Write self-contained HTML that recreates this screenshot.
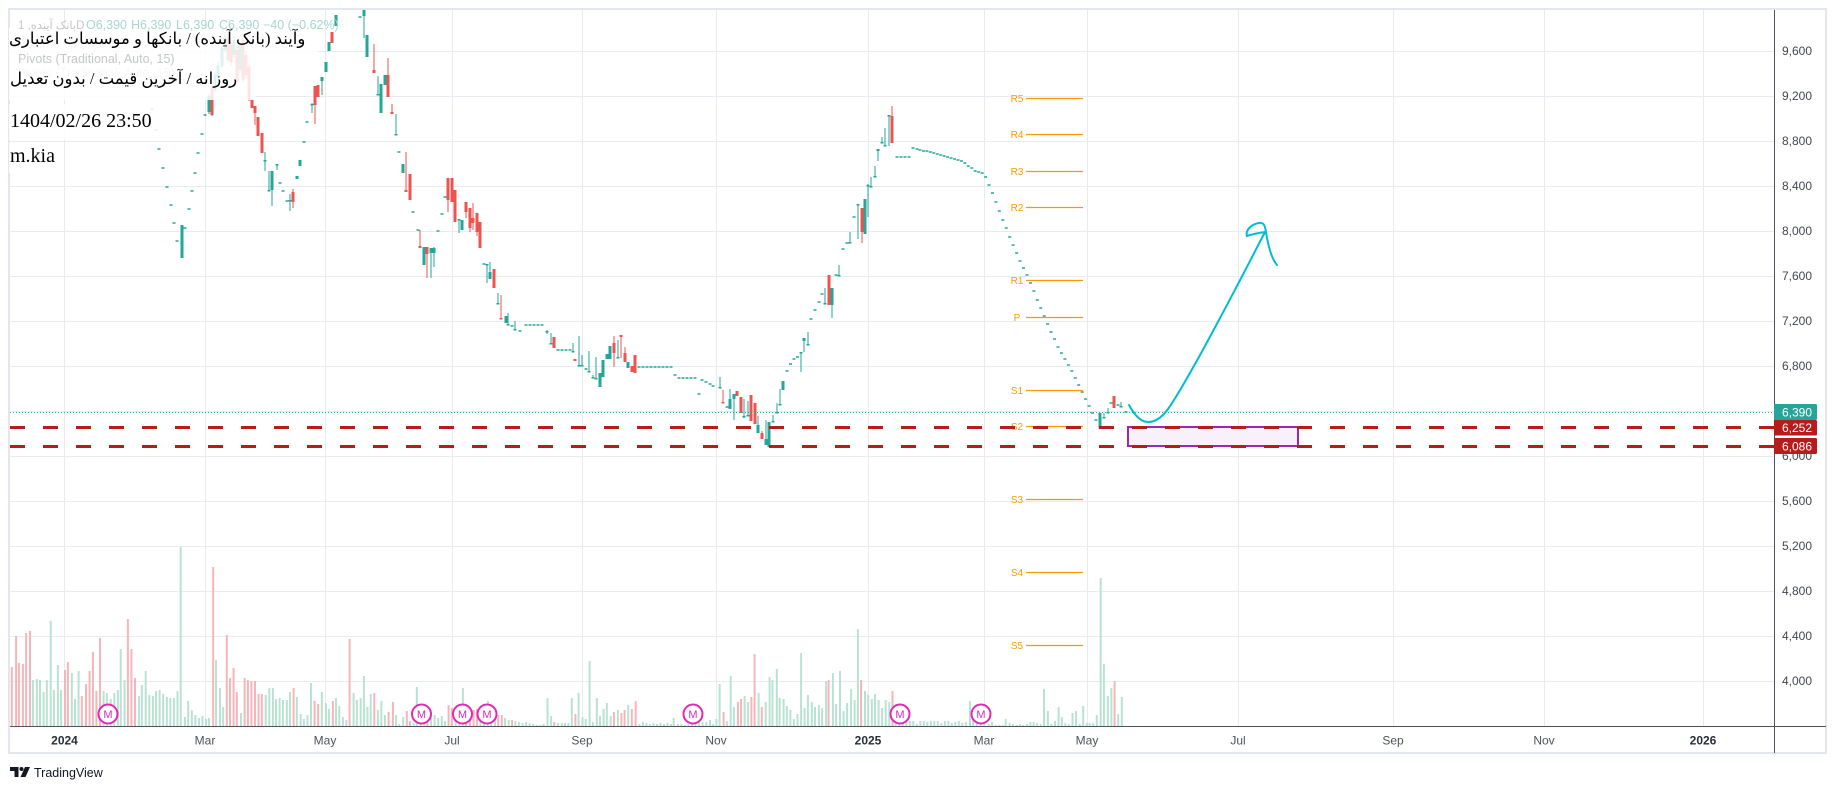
<!DOCTYPE html>
<html><head><meta charset="utf-8">
<style>
html,body{margin:0;padding:0;background:#fff;}
body{width:1836px;height:789px;overflow:hidden;position:relative;}
svg{position:absolute;left:0;top:0;}
.t{position:absolute;white-space:nowrap;color:#000;line-height:1;}
.fa{font-family:"Liberation Serif","DejaVu Sans",sans-serif;font-size:16.5px;}
.ser{font-family:"Liberation Serif",serif;font-size:20px;}
</style></head><body>
<svg width="1836" height="789" viewBox="0 0 1836 789" font-family="Liberation Sans, sans-serif">
<defs><clipPath id="pane"><rect x="10" y="10" width="1764" height="716"/></clipPath></defs>
<rect x="9" y="9" width="1817" height="744" fill="#fff" stroke="#e3e6ec" stroke-width="2"/>
<g stroke="#e8ecf1" stroke-width="1">
<line x1="10" x2="1774" y1="51.5" y2="51.5"/><line x1="10" x2="1774" y1="96.5" y2="96.5"/><line x1="10" x2="1774" y1="141.5" y2="141.5"/><line x1="10" x2="1774" y1="186.5" y2="186.5"/><line x1="10" x2="1774" y1="231.5" y2="231.5"/><line x1="10" x2="1774" y1="276.5" y2="276.5"/><line x1="10" x2="1774" y1="321.5" y2="321.5"/><line x1="10" x2="1774" y1="366.5" y2="366.5"/><line x1="10" x2="1774" y1="411.5" y2="411.5"/><line x1="10" x2="1774" y1="456.5" y2="456.5"/><line x1="10" x2="1774" y1="501.5" y2="501.5"/><line x1="10" x2="1774" y1="546.5" y2="546.5"/><line x1="10" x2="1774" y1="591.5" y2="591.5"/><line x1="10" x2="1774" y1="636.5" y2="636.5"/><line x1="10" x2="1774" y1="681.5" y2="681.5"/>
<line y1="10" y2="726" x1="64.5" x2="64.5"/><line y1="10" y2="726" x1="205.5" x2="205.5"/><line y1="10" y2="726" x1="325.5" x2="325.5"/><line y1="10" y2="726" x1="452.5" x2="452.5"/><line y1="10" y2="726" x1="582.5" x2="582.5"/><line y1="10" y2="726" x1="716.5" x2="716.5"/><line y1="10" y2="726" x1="868.5" x2="868.5"/><line y1="10" y2="726" x1="984.5" x2="984.5"/><line y1="10" y2="726" x1="1087.5" x2="1087.5"/><line y1="10" y2="726" x1="1238.5" x2="1238.5"/><line y1="10" y2="726" x1="1393.5" x2="1393.5"/><line y1="10" y2="726" x1="1544.5" x2="1544.5"/><line y1="10" y2="726" x1="1703.5" x2="1703.5"/>
</g>
<g id="vol" clip-path="url(#pane)"></g>
<g fill="#fff" stroke="#e327b9" stroke-width="2">
<circle cx="108" cy="714" r="9.5"/><circle cx="421.5" cy="714" r="9.5"/><circle cx="462.5" cy="714" r="9.5"/><circle cx="487" cy="714" r="9.5"/><circle cx="693" cy="714" r="9.5"/><circle cx="900" cy="714" r="9.5"/><circle cx="981" cy="714" r="9.5"/>
</g>
<g fill="#e327b9" font-size="11" text-anchor="middle">
<text x="108" y="718">M</text><text x="421.5" y="718">M</text><text x="462.5" y="718">M</text><text x="487" y="718">M</text><text x="693" y="718">M</text><text x="900" y="718">M</text><text x="981" y="718">M</text>
</g>
<g id="cdl" clip-path="url(#pane)"></g>
<line x1="10" x2="1774" y1="412.5" y2="412.5" stroke="#26a69a" stroke-width="1" stroke-dasharray="1 2"/>
<g stroke="#ff9800" stroke-width="1.2">
<line x1="1026" x2="1083" y1="98.5" y2="98.5"/><line x1="1026" x2="1083" y1="134.5" y2="134.5"/><line x1="1026" x2="1083" y1="171.5" y2="171.5"/><line x1="1026" x2="1083" y1="207.5" y2="207.5"/><line x1="1026" x2="1083" y1="280.5" y2="280.5"/><line x1="1026" x2="1083" y1="317.5" y2="317.5"/><line x1="1026" x2="1083" y1="390.5" y2="390.5"/><line x1="1026" x2="1083" y1="426.5" y2="426.5"/><line x1="1026" x2="1083" y1="499.5" y2="499.5"/><line x1="1026" x2="1083" y1="572.5" y2="572.5"/><line x1="1026" x2="1083" y1="645.5" y2="645.5"/>
</g>
<g fill="#ff9800" font-size="10" text-anchor="middle">
<text x="1017" y="102">R5</text><text x="1017" y="138">R4</text><text x="1017" y="175">R3</text><text x="1017" y="211">R2</text><text x="1017" y="284">R1</text><text x="1017" y="321">P</text><text x="1017" y="394">S1</text><text x="1017" y="430">S2</text><text x="1017" y="503">S3</text><text x="1017" y="576">S4</text><text x="1017" y="649">S5</text>
</g>
<rect x="1128" y="427" width="170" height="19" fill="#f8f0fa" stroke="#9c27b0" stroke-width="2"/>
<g stroke="#b71c1c" stroke-width="3" stroke-dasharray="15 18">
<line x1="10" x2="1774" y1="427.5" y2="427.5"/><line x1="10" x2="1774" y1="446.5" y2="446.5"/>
</g>
<path d="M1129,405 C1135,416 1141,422 1148,422 C1156,422 1162,417 1168,409 C1185,385 1230,300 1265,232 C1258,233 1250,235 1247,236 C1245,230 1252,224 1259,223 C1264,222 1265,226 1266,232 C1268,245 1271,258 1277,265" fill="none" stroke="#00bcd4" stroke-width="2" stroke-linecap="round"/>
<text x="18" y="48" font-size="12.5" fill="#c4c6cc">Volume  660.66K</text>
<text x="18" y="77" font-size="12.5" fill="#c4c6cc">Pivots (Traditional, Auto, 15)</text>
<g fill="#fff" fill-opacity="0.85">
<rect x="9" y="28" width="309" height="26"/><rect x="9" y="54" width="247" height="46"/><rect x="9" y="104" width="151" height="36"/><rect x="9" y="143" width="53" height="30"/>
</g>
<g font-size="12.5">
<text x="18" y="29" fill="#c4c6cc" font-size="11.5" font-family="Liberation Sans, DejaVu Sans, sans-serif">بانک آینده, 1D</text>
<text x="86" y="29" fill="#a5d6cf">O6,390</text><text x="131" y="29" fill="#a5d6cf">H6,390</text><text x="176" y="29" fill="#a5d6cf">L6,390</text><text x="219" y="29" fill="#a5d6cf">C6,390</text><text x="263" y="29" fill="#a5d6cf">−40 (−0.62%)</text>
</g>
<text x="18" y="63" font-size="12.5" fill="#c4c6cc">Pivots (Traditional, Auto, 15)</text>
<line x1="1774.5" x2="1774.5" y1="10" y2="753" stroke="#50535e" stroke-width="1"/>
<line x1="10" x2="1826" y1="726.5" y2="726.5" stroke="#50535e" stroke-width="1"/>
<g fill="#434651" font-size="12">
<text x="1782" y="55">9,600</text><text x="1782" y="100">9,200</text><text x="1782" y="145">8,800</text><text x="1782" y="190">8,400</text><text x="1782" y="235">8,000</text><text x="1782" y="280">7,600</text><text x="1782" y="325">7,200</text><text x="1782" y="370">6,800</text><text x="1782" y="415">6,400</text><text x="1782" y="460">6,000</text><text x="1782" y="505">5,600</text><text x="1782" y="550">5,200</text><text x="1782" y="595">4,800</text><text x="1782" y="640">4,400</text><text x="1782" y="685">4,000</text>
</g>
<rect x="1774" y="404" width="43" height="16" rx="1.5" fill="#26a69a"/>
<rect x="1774" y="420" width="43" height="15.5" rx="1.5" fill="#b71c1c"/>
<rect x="1774" y="438" width="43" height="16" rx="1.5" fill="#b71c1c"/>
<g fill="#fff" font-size="12">
<text x="1782" y="416.5">6,390</text><text x="1782" y="432">6,252</text><text x="1782" y="450.5">6,086</text>
</g>
<g fill="#50535e" font-size="12" text-anchor="middle">
<text x="64.5" y="744.5" font-weight="bold" fill="#2a2e39">2024</text><text x="205" y="744.5">Mar</text><text x="325" y="744.5">May</text><text x="452" y="744.5">Jul</text><text x="582" y="744.5">Sep</text><text x="716" y="744.5">Nov</text><text x="868" y="744.5" font-weight="bold" fill="#2a2e39">2025</text><text x="984" y="744.5">Mar</text><text x="1087" y="744.5">May</text><text x="1238" y="744.5">Jul</text><text x="1393" y="744.5">Sep</text><text x="1544" y="744.5">Nov</text><text x="1703" y="744.5" font-weight="bold" fill="#2a2e39">2026</text>
</g>
<g fill="#131722">
<path d="M10 767h8.5v10h-4v-6h-4.5z"/><circle cx="21.5" cy="769" r="2"/><path d="M25 767h5l-4.5 10h-5z"/>
</g>
<text x="34" y="777" font-size="12.5" fill="#131722">TradingView</text>
</svg>
<div class="t fa" style="left:9px;top:31px;" dir="rtl">وآیند (بانک آینده) / بانکها و موسسات اعتباری</div>
<div class="t fa" style="left:10px;top:70.5px;" dir="rtl">روزانه / آخرین قیمت / بدون تعدیل</div>
<div class="t ser" style="left:10px;top:111px;">1404/02/26 23:50</div>
<div class="t ser" style="left:10px;top:146px;">m.kia</div>
<script>
(function(){
var G='#26a69a',R='#ef5350',VG='#b8e3d3',VR='#f6b6b9';
var V=[11.8,667,0,16.1,636,0,18.9,663,0,22.9,664,0,26.1,633,0,30,631,0,32.9,680,1,36.8,679,1,40,680,1,43.6,692,1,46.8,680,1,50.7,621,1,53.9,690,1,57.9,665,1,61.1,690,1,65,670,0,67.9,662,0,71.8,673,1,75,699,1,78.6,671,1,81.8,696,0,86,684,0,89.6,671,0,92.9,652,0,96.4,691,0,100,638,0,103.6,691,1,106.8,693,1,110.7,699,1,114.3,693,1,117.9,690,1,120.7,649,1,124.6,680,1,127.9,619,0,131.4,649,0,135,678,0,138.9,696,1,141.8,685,1,145.7,671,1,149.3,695,1,152.9,696,1,156.1,691,1,159.6,690,1,163.2,694,1,166.8,697,1,170.4,698,1,173.9,698,1,177.5,691,1,180.7,547,1,185,717,1,188.2,701,1,191.8,710,1,195.4,715,1,198.9,718,1,202.5,716,1,206,719,1,208.9,718,1,213.2,567,0,216,660,1,220,688,1,223.2,707,1,226.8,635,0,230,678,0,233.6,668,0,236.8,692,0,241,713,1,244.6,678,0,247.9,680,0,251.4,681,0,255,681,0,258.6,694,0,261.8,694,0,265.7,695,1,269.3,688,1,272.9,688,1,276,699,1,279.6,698,1,282.9,700,1,286.8,700,1,290,692,1,293.6,688,0,296.8,697,1,300.7,714,1,303.9,719,1,307.5,715,1,311,683,1,314.6,701,0,318.2,704,0,321.8,692,1,326,703,1,328.9,709,1,332.9,701,0,336,698,1,339.3,706,1,342.9,717,1,346.4,720,1,349.6,639,0,353.6,693,1,356.8,700,1,360.7,698,1,363.9,676,1,367.5,707,1,370.7,694,1,374.3,693,0,377.9,710,1,381.4,701,1,385,715,1,388.6,712,0,392.9,702,0,396,715,1,399.3,724,1,403.2,717,1,406.8,711,0,410,721,0,413.6,723,1,416.8,687,1,420.7,720,1,424.3,720,1,427.5,720,0,431,717,1,434.6,715,1,438.2,718,1,441.8,716,1,445,721,1,448.6,705,0,451.8,708,0,455.7,708,1,459.3,715,1,462.9,688,1,466,708,0,470,709,0,473.6,710,0,477.1,709,0,480.4,711,1,483.9,713,1,487.9,701,1,491.1,714,1,495,719,1,498.2,715,0,501.8,715,0,505,718,1,508.6,720,1,512.1,720,0,515.4,721,1,518.9,722,1,522.5,723,1,526.1,722,1,529.6,723,1,533.2,724,1,536.8,725,1,540.4,725,1,543.6,724,1,547.5,698,1,551.1,716,1,554.3,722,0,557.9,723,1,561.8,723,1,565,723,1,568.5,723,1,571.8,698,1,575.4,714,0,578.6,693,1,582.5,717,1,585.7,719,1,589.6,661,1,592.9,722,1,596.8,698,1,600,716,1,603.6,709,1,606.8,703,1,610.7,716,1,613.9,712,0,617.9,710,1,621.4,713,0,624.6,710,0,628.2,705,1,631.8,709,0,635.7,701,0,639.3,724,1,642.9,722,1,646.4,723,1,650,724,1,653.5,723,1,657,724,1,660.5,723,1,664,724,1,667.5,723,1,671,724,1,673.6,718,1,677.9,724,1,681.4,724,1,685,725,1,688.5,724,1,692,724,1,695.5,723,1,699,722,1,702.5,722,1,706.4,722,1,710,720,1,713.2,724,1,716.4,719,1,719.6,684,1,723.6,712,0,726.8,721,1,730.7,676,1,733.9,707,1,737.9,702,0,741.1,699,0,744.6,696,1,748.2,702,1,751.4,697,0,754.6,654,0,758.6,693,1,761.8,707,0,765.7,702,1,769.6,677,1,772.5,680,1,776.8,669,1,779.6,698,1,783.6,699,1,786.8,706,1,790.4,710,1,793.9,719,1,797.5,714,1,801.1,653,1,804.6,708,1,807.9,695,1,811.8,702,1,815,707,1,818.9,705,1,822.1,708,1,826.1,681,1,828.6,680,0,832.9,673,1,836.1,704,1,840,671,1,843.6,711,1,847.1,703,1,851.1,689,1,854.6,700,1,857.9,629,1,861.1,680,0,865,691,1,868.2,695,1,871.8,699,1,875,694,1,878.6,700,1,882.1,708,1,885.7,700,1,889.3,702,1,892.5,691,0,895.7,723,1,899.3,724,1,902.8,722,1,906.3,721,1,909.8,721,1,913.3,721,1,916.8,724,1,920.3,721,1,923.8,721,1,927.3,722,1,930.8,721,1,934.3,721,1,937.8,721,1,941.3,723,1,944.8,721,1,948.3,721,1,951.8,723,1,955.3,722,1,958.8,721,1,962.3,723,1,965.8,722,1,970,701,1,973.2,713,1,976.8,722,1,980.7,724,1,984.3,724,1,988.6,724,1,992.1,722,1,995.7,725,1,999.3,725,1,1002.9,725,1,1005.7,719,1,1009.6,723,1,1012.9,724,1,1016.8,725,1,1020,724,1,1023.2,725,1,1027.1,724,1,1030.4,722,1,1033.6,722,1,1037.1,723,1,1040.7,724,1,1044,689,1,1047.9,711,1,1051.4,724,1,1055,721,1,1058.6,707,1,1061.8,717,1,1065.4,723,1,1068.9,724,1,1072.5,713,1,1076.1,711,1,1079.6,724,1,1083.2,706,1,1086.8,723,1,1089.6,723,1,1093.2,723,1,1096.8,715,1,1100.7,578,1,1103.9,664,1,1107.9,696,1,1111.4,688,1,1114.6,681,0,1118.2,714,1,1121.8,697,1];
var s='';
for(var i=0;i<V.length;i+=3){var x=V[i],y=V[i+1];s+='<rect x="'+(x-1)+'" y="'+y+'" width="2" height="'+(726-y)+'" fill="'+(V[i+2]?VG:VR)+'"/>';}
document.getElementById('vol').innerHTML=s;
function D(x,y){return [x,y,y,y,y];}
var C=[D(152,109),D(156,130),D(159,149),D(163,168),D(167,187),D(171,205),D(174,223),D(177,241),[182,258,225,225,258],D(185,228),D(189,209),D(192,191),D(195,173),D(198,153),D(202,134),D(205,115),
[209,112,96,94,114],[212,88,115,85,116],[215,90,75,72,92],[218,77,65,62,80],[222,66,48,45,68],[225,50,38,32,52],[228,37,60,30,62],[231,45,62,42,66],[234,55,40,36,58],[237,50,82,47,84],[240,70,45,43,72],[243,40,80,38,82],[246,55,75,52,78],[249,67,100,64,101],[252,100,108,99,108],[255,106,113,106,125],[258,117,136,117,136],[262,133,153,133,153],[265,161,160,152,171],[269,191,190,171,191],[272,190,171,171,206],[277,165,164,164,170],D(280,183),D(283,191),D(287,201),[290,201,200,194,211],[293,192,202,189,208],[297,179,176,176,179],[300,166,160,160,166],D(304,142),D(307,122),[312,105,104,103,113],[315,86,105,86,124],[318,85,97,85,97],[322,81,77,77,95],[326,72,62,62,72],[329,51,42,42,51],[332,32,43,32,43],[336,26,15,15,26],
D(360,17),[364,16,10,0,38],[367,57,35,35,57],[374,70,73,44,73],[378,95,94,76,95],[381,113,84,84,113],[385,85,75,75,85],[388,75,97,58,97],[392,112,114,104,114],[396,135,134,114,135],D(399,152),[403,173,164,164,173],[406,190,192,152,192],[410,174,200,174,200],D(413,212),D(418,230),[420,246,248,230,248],[424,265,247,247,265],[427,247,254,247,278],[431,253,248,248,278],[434,253,248,247,267],D(438,231),D(442,214),D(445,197),[448,178,200,178,212],[452,178,202,178,202],[455,190,222,190,222],[459,220,219,219,233],[462,230,220,220,230],[466,202,212,202,218],[470,208,228,208,232],[473,218,223,203,230],[477,213,232,213,236],[480,222,248,222,248],D(484,264),[487,265,264,264,283],[490,279,272,262,279],[494,269,288,269,288],[498,304,303,293,304],[501,318,319,295,319],[506,323,316,316,323],[508,325,324,313,325],D(512,326),[515,330,329,321,330],D(520,331),D(526,325),D(530,325),D(534,325),D(538,325),D(542,325),[547,332,331,330,334],[551,344,343,333,344],[554,337,348,337,348],D(558,350),D(562,350),D(566,350),D(570,350),[573,352,351,343,352],[575,359,361,359,361],[579,366,365,336,366],[582,366,365,355,366],D(586,369),[589,372,371,351,372],[593,378,377,375,378],[596,379,378,357,379],[600,387,373,373,387],[603,377,360,360,377],[607,359,354,354,359],[610,359,346,346,359],[614,343,353,336,367],[618,358,357,340,358],[621,335,337,335,358],[625,353,362,347,362],[628,368,362,362,368],[632,366,372,366,372],[635,355,373,355,373],
D(639,367),D(643,367),D(647,367),D(651,367),D(655,367),D(659,367),D(663,367),D(667,367),D(671,367),D(675,375),D(679,378),D(683,378),D(687,378),D(691,378),D(695,378),D(699,394),D(702,380),D(706,382),D(710,384),D(713,386),[720,388,387,377,388],[723,402,403,390,403],D(727,407),[730,409,399,389,409],[734,399,394,394,420],[737,391,396,391,396],[741,397,413,397,413],[744,417,416,399,418],[748,416,415,401,416],[751,395,421,395,421],[755,403,424,403,424],[758,433,425,416,433],[762,433,439,431,439],[766,445,439,420,445],[769,447,422,422,447],[773,422,421,415,422],[777,413,412,403,413],[780,405,404,389,405],[783,390,381,381,390],D(787,371),D(790.5,364),D(794,359),D(797.5,357),[801,353,352,352,372],[804,341,338,338,352],[808,345,344,332,345],D(811,319),D(815,310),D(819,302),D(822,294),[825,304,303,288,304],[829,275,305,275,305],[832,305,288,288,318],D(836,275),[839,276,275,265,276],D(843,249),D(847,243),[850,243,242,232,243],D(854,217),[858,205,204,204,239],[862,208,232,208,243],[865,234,199,199,234],[868,186,185,184,217],[871,187,186,177,187],[875,177,176,166,177],[878,151,149,149,161],[882,143,142,137,143],[885,146,145,128,146],[889,116,115,115,146],[892,116,143,106,143],D(897,157),D(901,157),D(905,157),D(909,157),D(913,148),D(917,149),
[1100,428,413,413,428],[1104,418,417,413,418],[1108,413,412,408,413],D(1111,403),[1114,396,408,396,408],D(1118,405),[1121,407,406,402,407],D(1126,412)];
var kp=[[920,150],[931,152],[942,155],[952,158],[963,162],[970,167],[977,172],[984,174],[988,182],[1002,218],[1016,252],[1030,282],[1044,316],[1058,347],[1073,373],[1087,402],[1097,422]];
for(var x=920;x<=1097.5;x+=3.45){var y=kp[0][1];for(var k=0;k<kp.length-1;k++){if(x>=kp[k][0]&&x<=kp[k+1][0]){y=kp[k][1]+(kp[k+1][1]-kp[k][1])*(x-kp[k][0])/(kp[k+1][0]-kp[k][0]);break;}}C.push(D(x,Math.round(y)));}
var t='';
for(var j=0;j<C.length;j++){var c=C[j],x=c[0],o=c[1],cl=c[2],h=c[3],l=c[4];
 var col=cl>o?R:G;
 if(o===cl&&h===l&&o===h){t+='<rect x="'+(x-1.5)+'" y="'+(o-0.75)+'" width="3" height="1.5" fill="'+G+'"/>';continue;}
 var top=Math.min(o,cl),bh=Math.max(1.5,Math.abs(o-cl));
 t+='<rect x="'+(x-0.5)+'" y="'+h+'" width="1" height="'+Math.max(1,l-h)+'" fill="'+col+'"/>';
 t+='<rect x="'+(x-1.5)+'" y="'+top+'" width="3" height="'+bh+'" fill="'+col+'"/>';}
document.getElementById('cdl').innerHTML=t;
})();
</script>
</body></html>
